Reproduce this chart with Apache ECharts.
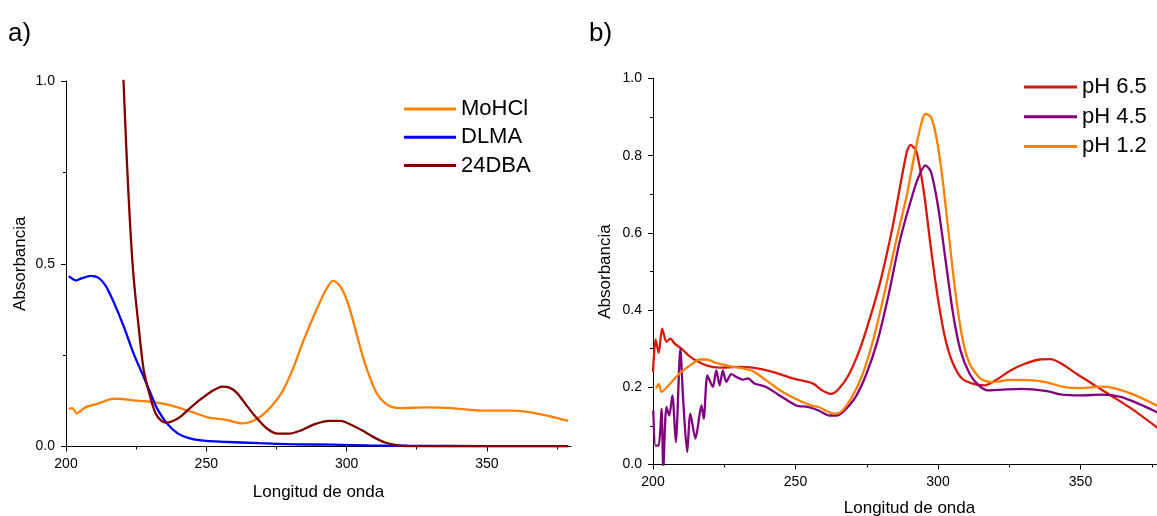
<!DOCTYPE html>
<html>
<head>
<meta charset="utf-8">
<script src="https://cdn.jsdelivr.net/npm/echarts@6/dist/echarts.min.js"></script>
<style>html,body{margin:0;padding:0;background:#fff;}#c{width:1157px;height:516px;}</style>
</head>
<body>
<div id="c"></div>
<script>
// ---- Panel a data ----
const moHCl = [[201,0.103],[202.2,0.105],[203.8,0.091],[206.9,0.107],[210.8,0.116],[214,0.125],[217,0.131],[220,0.130],[224,0.126],[229.3,0.123],[234.6,0.117],[239.8,0.107],[245,0.094],[250.4,0.080],[257,0.073],[263,0.063],[267.5,0.073],[271.5,0.096],[276.8,0.146],[280.7,0.209],[284.7,0.291],[288.7,0.364],[292.6,0.428],[295.2,0.454],[297.9,0.437],[300.5,0.392],[303.2,0.319],[305.8,0.246],[308.4,0.187],[311.1,0.141],[315,0.112],[319,0.105],[328.2,0.107],[337.5,0.105],[348,0.098],[358.6,0.098],[365,0.094],[371.8,0.084],[379,0.070]];
const dlma = [[201,0.466],[203.6,0.454],[205.5,0.460],[208.8,0.467],[211.5,0.462],[214.1,0.440],[217,0.395],[220.5,0.330],[224.1,0.254],[227.7,0.190],[230.6,0.137],[232.4,0.105],[235.9,0.064],[239.8,0.036],[243.8,0.023],[249,0.016],[255.7,0.013],[268.9,0.009],[282,0.006],[295,0.005],[308,0.003],[321.6,0.002],[350,0.001],[379,0.001]];
const dba24 = [[220,1.10],[220.5,1.0],[221.7,0.78],[222.9,0.60],[224.1,0.463],[225.9,0.327],[227.7,0.209],[230,0.136],[231.9,0.091],[233.9,0.071],[235.9,0.065],[238.5,0.071],[241.2,0.084],[243.8,0.102],[247.8,0.128],[251.7,0.150],[255.7,0.164],[258.3,0.161],[261,0.146],[264.2,0.114],[267.5,0.082],[271.5,0.050],[275.5,0.035],[279.4,0.035],[283.4,0.043],[288.7,0.061],[293.9,0.070],[297.9,0.070],[301.8,0.059],[305.8,0.043],[309.8,0.025],[313.7,0.011],[317.7,0.004],[321.6,0.001],[350,0.001],[379,0.001]];

// ---- Panel b data ----
const ph65 = [[200.0,0.240],[200.9,0.324],[202.0,0.289],[203.2,0.352],[204.7,0.318],[206.1,0.326],[207.6,0.313],[210,0.300],[211.7,0.288],[214,0.274],[218.7,0.257],[223.4,0.251],[230.4,0.253],[235,0.251],[242,0.240],[249,0.223],[256,0.210],[259.4,0.192],[262.7,0.183],[265.2,0.196],[268.5,0.230],[272.4,0.295],[276.2,0.381],[280.1,0.484],[284,0.613],[286.6,0.716],[289.1,0.811],[290.4,0.828],[292.4,0.811],[295,0.708],[297.5,0.561],[300.1,0.424],[302.7,0.321],[305.3,0.261],[308.5,0.222],[312.4,0.209],[316.3,0.205],[320.2,0.218],[325.3,0.243],[330.5,0.261],[335.7,0.272],[339.5,0.273],[343.4,0.261],[348.6,0.235],[355,0.205],[361.5,0.175],[368,0.144],[376.7,0.097],[380,0.078]];
const ph45 = [[200.1,0.140],[200.9,0.049],[202.0,0.049],[203.0,0.145],[203.6,-0.01],[204.7,0.149],[205.7,0.127],[206.8,0.179],[208,0.058],[209.6,0.300],[210.6,0.166],[212,0.032],[213.1,0.132],[214.9,0.067],[217,0.153],[217.8,0.119],[219.1,0.231],[221,0.201],[222.2,0.244],[223.4,0.205],[224.5,0.244],[225.7,0.214],[227.5,0.234],[229.2,0.227],[231.5,0.220],[233.3,0.223],[235.6,0.210],[239.7,0.201],[244.4,0.179],[250.2,0.153],[254.3,0.149],[258.1,0.140],[262,0.127],[264.6,0.127],[267.2,0.140],[271.1,0.175],[274.9,0.235],[278.8,0.321],[282.7,0.441],[286.6,0.579],[290.4,0.682],[293,0.742],[295.6,0.775],[297.5,0.759],[300.1,0.665],[302.7,0.527],[305.3,0.390],[307.9,0.295],[311.1,0.235],[314.3,0.205],[317.6,0.192],[322.7,0.194],[329.2,0.196],[338.2,0.190],[343.4,0.181],[349.9,0.179],[357.6,0.181],[364.1,0.175],[370.5,0.157],[376.7,0.136],[380,0.124]];
const ph12 = [[201.0,0.197],[202.0,0.208],[203.0,0.188],[204.7,0.199],[209.4,0.236],[214,0.262],[216.4,0.272],[218.7,0.272],[222.2,0.263],[226.9,0.255],[231.5,0.249],[235,0.242],[239.7,0.218],[245.5,0.188],[251.3,0.166],[256,0.152],[258.1,0.149],[263.3,0.132],[265.9,0.136],[269.8,0.175],[273.6,0.235],[277.5,0.329],[281.4,0.450],[285.3,0.579],[289.1,0.699],[291.7,0.802],[294.3,0.888],[295.6,0.908],[297.5,0.901],[299.5,0.845],[301.4,0.751],[303.4,0.622],[305.9,0.458],[308.5,0.329],[311.1,0.261],[315,0.222],[318.9,0.213],[325.3,0.219],[333.1,0.218],[338.2,0.213],[343.4,0.202],[349.9,0.198],[357.6,0.202],[362.8,0.196],[369.3,0.179],[376.7,0.153],[380,0.140]];

// ---- tick labels ----
const xMajorTicks = [200, 250, 300, 350];
const xMinorTicks = [225, 275, 325, 375];
const yMajorTicksA = [0, 0.5, 1.0];
const yMinorTicksA = [0.25, 0.75];
const yMajorTicksB = [0, 0.2, 0.4, 0.6, 0.8, 1.0];
const yMinorTicksB = [0.1, 0.3, 0.5, 0.7, 0.9];
const namesA = ['MoHCl', 'DLMA', '24DBA'];
const namesB = ['pH 6.5', 'pH 4.5', 'pH 1.2'];
const panelLabels = ['a)', 'b)'];
const xTitle = 'Longitud de onda';
const yTitle = 'Absorbancia';

const FONT = 'Liberation Sans, Arial, sans-serif';
const chart = echarts.init(document.getElementById('c'), null, {renderer: 'canvas'});

function majorX(grid, gap) {
  return {
    type: 'value', gridIndex: grid, min: 200, max: 380, interval: 50, position: 'bottom',
    name: xTitle, nameLocation: 'middle', nameGap: gap,
    nameTextStyle: {fontFamily: FONT, fontSize: 17, color: '#000'},
    axisLine: {show: true, lineStyle: {color: '#000', width: 1}},
    axisTick: {show: true, length: 5, customValues: xMajorTicks, lineStyle: {color: '#000'}},
    axisLabel: {customValues: xMajorTicks, fontFamily: FONT, fontSize: 14, color: '#000', margin: 11},
    splitLine: {show: false}
  };
}
function minorX(grid) {
  return {
    type: 'value', gridIndex: grid, min: 200, max: 380, interval: 25, position: 'bottom',
    axisLine: {show: false},
    axisTick: {show: true, length: 3, customValues: xMinorTicks, lineStyle: {color: '#000'}},
    axisLabel: {show: false}, splitLine: {show: false}
  };
}
function majorY(grid, interval, ticks, gap) {
  return {
    type: 'value', gridIndex: grid, min: 0, max: 1, interval: interval, position: 'left',
    name: yTitle, nameLocation: 'middle', nameGap: gap,
    nameTextStyle: {fontFamily: FONT, fontSize: 17, color: '#000'},
    axisLine: {show: true, lineStyle: {color: '#000', width: 1}},
    axisTick: {show: true, length: 5, customValues: ticks, lineStyle: {color: '#000'}},
    axisLabel: {customValues: ticks, formatter: v => Number(v).toFixed(1), fontFamily: FONT, fontSize: 14, color: '#000', margin: 11},
    splitLine: {show: false}
  };
}
function minorY(grid, ticks) {
  return {
    type: 'value', gridIndex: grid, min: 0, max: 1, position: 'left',
    axisLine: {show: false},
    axisTick: {show: true, length: 3, customValues: ticks, lineStyle: {color: '#000'}},
    axisLabel: {show: false}, splitLine: {show: false}
  };
}
function line(name, data, color, xi, yi) {
  return {
    type: 'line', name: name, data: data, xAxisIndex: xi, yAxisIndex: yi,
    symbol: 'none', smooth: 0.25, clip: true,
    lineStyle: {color: color, width: 2.3}, itemStyle: {color: color}
  };
}

chart.setOption({
  animation: false,
  backgroundColor: '#fff',
  title: [
    {text: panelLabels[0], left: 3, top: 16, textStyle: {fontFamily: FONT, fontSize: 26, fontWeight: 'normal', color: '#000'}},
    {text: panelLabels[1], left: 584, top: 16, textStyle: {fontFamily: FONT, fontSize: 26, fontWeight: 'normal', color: '#000'}}
  ],
  grid: [
    {left: 66, top: 81, width: 505, height: 365.5, outerBoundsMode: 'none', containLabel: false},
    {left: 653, top: 78.5, width: 513, height: 386, outerBoundsMode: 'none', containLabel: false}
  ],
  xAxis: [majorX(0, 37), minorX(0), majorX(1, 35), minorX(1)],
  yAxis: [majorY(0, 0.5, yMajorTicksA, 37), minorY(0, yMinorTicksA), majorY(1, 0.2, yMajorTicksB, 39), minorY(1, yMinorTicksB)],
  legend: [
    {data: namesA, orient: 'vertical', left: 399, top: 93, icon: 'rect', itemWidth: 52, itemHeight: 3, itemGap: 6.3,
     textStyle: {fontFamily: FONT, fontSize: 22, lineHeight: 22, color: '#000'}},
    {data: namesB, orient: 'vertical', left: 1019, top: 71, icon: 'rect', itemWidth: 53, itemHeight: 3, itemGap: 7.7,
     textStyle: {fontFamily: FONT, fontSize: 22, lineHeight: 22, color: '#000'}}
  ],
  series: [
    line(namesA[0], moHCl, '#FF8000', 0, 0),
    line(namesA[1], dlma, '#0000FF', 0, 0),
    line(namesA[2], dba24, '#800000', 0, 0),
    line(namesB[0], ph65, '#D7190C', 2, 2),
    line(namesB[1], ph45, '#800080', 2, 2),
    line(namesB[2], ph12, '#FF8000', 2, 2)
  ]
});
</script>
</body>
</html>
